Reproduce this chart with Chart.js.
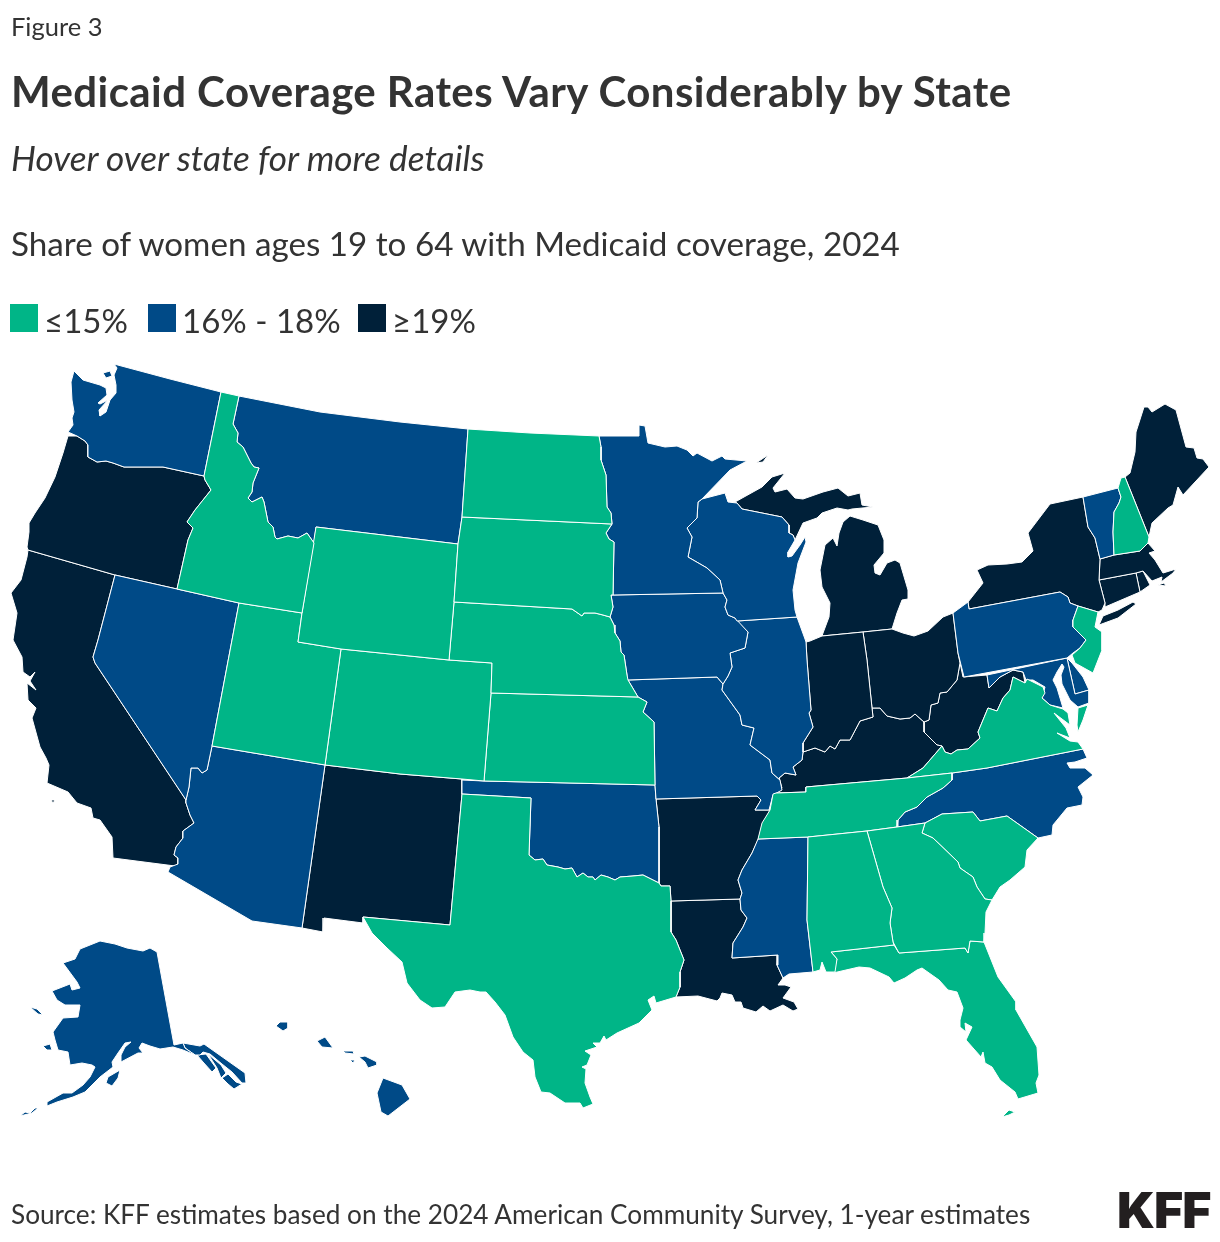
<!DOCTYPE html>
<html>
<head>
<meta charset="utf-8">
<script src="https://cdn.jsdelivr.net/npm/chart.js@4"></script>
<style>
  html, body { margin: 0; padding: 0; background: #fff; }
  #page { position: relative; width: 1220px; height: 1242px; overflow: hidden; font-family: Lato, sans-serif; color: #333; }
  #myChart { position: absolute; left: 0; top: 0; }
  .txt { position: absolute; white-space: nowrap; line-height: 1; }
  #figure { left: 11px; top: 14px; font-size: 25.5px; }
  #title { left: 11px; top: 70px; font-size: 42px; font-weight: 700; letter-spacing: 0.43px; }
  #hover { left: 11px; top: 140px; font-size: 35.2px; font-style: italic; }
  #share { left: 11px; top: 227px; font-size: 33.2px; }
  #source { left: 11px; top: 1201px; font-size: 26.2px; }
  #logo { left: 1117px; top: 1185px; font-size: 50px; font-weight: 900; letter-spacing: -1px; color: #231f20; font-family: Inter, sans-serif; }
  #legend .sw { position: absolute; top: 304px; width: 28px; height: 28px; }
  #legend .txt { top: 304px; font-size: 33px; }
</style>
</head>
<body>
<div id="page">
  <canvas id="myChart" width="1220" height="1242"></canvas>
  <div class="txt" id="figure">Figure 3</div>
  <div class="txt" id="title">Medicaid Coverage Rates Vary Considerably by State</div>
  <div class="txt" id="hover">Hover over state for more details</div>
  <div class="txt" id="share">Share of women ages 19 to 64 with Medicaid coverage, 2024</div>
  <div id="legend"></div>
  <div class="txt" id="source">Source: KFF estimates based on the 2024 American Community Survey, 1-year estimates</div>
  <div class="txt" id="logo">KFF</div>
</div>
<script>
const tierLabels = ['≤15%', '16% - 18%', '≥19%'];
const tierColors = ['#00b587', '#004a87', '#002039'];

const tierLow = ['Idaho', 'North Dakota', 'South Dakota', 'Wyoming', 'Nebraska', 'Utah', 'Colorado', 'Kansas', 'Texas',
  'Alabama', 'Georgia', 'South Carolina', 'Florida', 'Tennessee', 'Virginia', 'New Jersey', 'New Hampshire'];
const tierMid = ['Washington', 'Montana', 'Minnesota', 'Wisconsin', 'Iowa', 'Illinois', 'Missouri', 'Nevada', 'Arizona',
  'Oklahoma', 'Mississippi', 'North Carolina', 'Pennsylvania', 'Vermont', 'Maryland', 'Delaware', 'Alaska', 'Hawaii'];
const tierHigh = ['Oregon', 'California', 'New Mexico', 'Arkansas', 'Louisiana', 'Indiana', 'Ohio', 'Kentucky',
  'West Virginia', 'Michigan', 'New York', 'Maine', 'Massachusetts', 'Connecticut', 'Rhode Island', 'District of Columbia'];

// state outlines, in map units, flat x,y lists, one list per land part
const outlines = {
  'Washington': [[114,364, 170,379, 221,392, 204,476, 163,467, 153,467, 140,467, 130,467, 124,467, 113,463, 106,461, 97,462, 88,457, 88,445, 85,441, 77,436, 68,432, 73,425, 72,418, 74,412, 72,400, 71,382, 74,371, 83,380, 100,385, 106,388, 107,395, 98,403, 100,404, 108,400, 99,410, 100,416, 106,412, 110,400, 116,393, 116,385, 114,375, 117,368],
    [103,373, 110,371, 112,376, 106,378]],
  'Oregon': [[77,436, 85,441, 88,445, 88,457, 97,462, 106,461, 113,463, 124,467, 130,467, 140,467, 153,467, 163,467, 204,476, 205,480, 211,490, 195,510, 187,522, 193,528, 188,540, 177,589, 115,575, 28,550, 27,547, 29,532, 29,523, 35,513, 45,498, 55,477, 63,453, 68,436]],
  'California': [[28,550, 115,575, 98,640, 93,657, 95,663, 186,800, 186,803, 190,815, 194,823, 183,831, 183,838, 176,847, 174,855, 178,858, 178,864, 175,866, 113,858, 112,837, 100,820, 93,818, 91,808, 77,803, 68,792, 47,783, 49,765, 46,758, 40,747, 32,718, 36,708, 28,700, 27,683, 36,690, 30,681, 35,672, 30,677, 23,672, 22,657, 13,640, 17,613, 11,593, 21,580, 27,557],
    [51,800, 55,800, 53,803]],
  'Nevada': [[115,575, 177,589, 239,603, 212,746, 207,770, 202,773, 198,768, 191,768, 189,787, 186,800, 95,663, 93,657, 98,640]],
  'Idaho': [[221,392, 239,396, 233,424, 238,433, 237,442, 243,447, 251,463, 254,467, 259,468, 253,483, 252,492, 248,498, 252,502, 262,497, 264,502, 268,522, 273,527, 275,537, 277,539, 288,536, 298,538, 307,533, 314,543, 302,613, 239,603, 177,589, 188,540, 193,528, 187,522, 195,510, 211,490, 205,480, 204,476]],
  'Montana': [[239,396, 320,412, 400,422, 468,429, 462,517, 458,544, 316,527, 314,543, 307,533, 298,538, 288,536, 277,539, 275,537, 273,527, 268,522, 264,502, 262,497, 252,502, 248,498, 252,492, 253,483, 259,468, 254,467, 251,463, 243,447, 237,442, 238,433, 233,424]],
  'Wyoming': [[316,527, 458,544, 454,602, 449,660, 341,649, 298,642, 302,613]],
  'Utah': [[239,603, 302,613, 298,642, 341,649, 325,765, 212,746]],
  'Arizona': [[212,746, 325,765, 302,928, 252,921, 168,872, 170,867, 178,864, 178,858, 174,855, 176,847, 183,838, 183,831, 194,823, 190,815, 186,803, 186,800, 189,787, 191,768, 198,768, 202,773, 207,770]],
  'Colorado': [[341,649, 449,660, 492,663, 491,693, 484,781, 462,779, 400,774, 325,765]],
  'New Mexico': [[325,765, 400,774, 462,779, 462,794, 450,925, 363,917, 363,923, 324,918, 323,932, 302,928]],
  'North Dakota': [[468,429, 530,433, 599,436, 601,447, 601,460, 606,475, 607,507, 611,513, 612,524, 462,517]],
  'South Dakota': [[462,517, 612,524, 606,533, 609,539, 614,542, 613,595, 611,595, 613,607, 610,617, 603,615, 595,613, 584,613, 582,616, 572,609, 454,602, 458,544]],
  'Nebraska': [[454,602, 572,609, 582,616, 584,613, 595,613, 603,615, 610,617, 614,625, 615,633, 620,641, 621,652, 624,655, 627,675, 628,680, 638,697, 491,693, 492,663, 449,660]],
  'Kansas': [[491,693, 638,697, 647,702, 643,712, 654,722, 655,785, 484,781]],
  'Oklahoma': [[462,780, 484,781, 655,785, 656,799, 659,827, 659,883, 643,875, 633,876, 620,877, 615,880, 608,877, 601,875, 595,880, 593,877, 588,877, 583,873, 577,877, 572,868, 565,869, 558,867, 547,865, 543,859, 535,860, 529,855, 531,798, 462,794]],
  'Texas': [[462,794, 531,798, 529,855, 535,860, 543,859, 547,865, 558,867, 565,869, 572,868, 577,877, 583,873, 588,877, 593,877, 595,880, 601,875, 608,877, 615,880, 620,877, 633,876, 643,875, 659,883, 661,886, 670,886, 671,901, 671,920, 671,932, 676,940, 684,960, 680,972, 680,987, 676,997, 656,1003, 654,996, 648,1000, 652,1010, 639,1023, 617,1033, 606,1040, 604,1036, 600,1043, 593,1043, 597,1047, 585,1051, 591,1055, 587,1065, 582,1067, 586,1069, 585,1083, 590,1097, 593,1104, 583,1108, 580,1103, 565,1103, 550,1093, 541,1092, 535,1077, 533,1060, 523,1052, 513,1037, 505,1015, 495,1002, 486,992, 480,992, 470,990, 455,992, 445,1007, 432,1008, 420,1000, 407,983, 402,962, 387,948, 372,933, 363,917, 450,925]],
  'Minnesota': [[599,436, 639,436, 639,425, 645,426, 648,443, 665,447, 677,446, 687,450, 693,456, 697,453, 712,461, 722,456, 725,459, 747,461, 730,470, 702,499, 698,502, 697,518, 687,528, 692,537, 688,557, 707,568, 720,580, 723,593, 613,595, 614,542, 609,539, 606,533, 612,524, 611,513, 607,507, 606,475, 601,460, 601,447]],
  'Iowa': [[613,595, 723,593, 727,600, 725,607, 728,615, 735,618, 748,632, 745,648, 730,653, 732,667, 728,676, 723,684, 717,677, 627,680, 627,675, 624,655, 621,652, 620,641, 615,633, 614,625, 610,617, 613,607, 611,595]],
  'Missouri': [[628,680, 717,677, 723,684, 722,690, 740,715, 742,725, 754,728, 750,745, 770,760, 772,773, 780,780, 782,790, 773,795, 769,810, 755,810, 761,800, 757,796, 656,799, 655,785, 654,722, 643,712, 647,702, 638,697]],
  'Arkansas': [[656,799, 757,796, 761,800, 755,810, 770,810, 762,827, 758,840, 752,853, 742,870, 738,880, 742,893, 740,899, 671,901, 670,886, 661,886, 659,883, 659,827]],
  'Louisiana': [[671,901, 740,899, 741,910, 747,918, 743,927, 733,943, 732,958, 778,955, 777,965, 783,978, 778,985, 785,985, 791,987, 783,998, 794,1002, 798,1009, 793,1011, 783,1005, 770,1011, 763,1006, 756,1012, 743,1008, 741,1002, 735,1002, 732,995, 722,993, 720,998, 717,1001, 698,996, 676,997, 680,987, 680,972, 684,960, 676,940, 671,932, 671,920]],
  'Wisconsin': [[702,499, 725,493, 728,502, 737,503, 742,509, 782,517, 789,525, 789,533, 793,535, 795,540, 788,552, 788,557, 792,556, 800,545, 805,537, 806,542, 798,563, 793,590, 795,610, 797,617, 737,621, 735,618, 728,615, 725,607, 727,600, 723,593, 720,580, 707,568, 688,557, 692,537, 687,528, 697,518, 698,502]],
  'Illinois': [[737,621, 797,617, 805,639, 806,642, 807,660, 811,710, 809,713, 813,727, 803,743, 803,752, 802,760, 793,767, 796,775, 785,773, 779,778, 780,780, 772,773, 770,760, 750,745, 754,728, 742,725, 740,715, 722,690, 723,684, 728,676, 732,667, 730,653, 745,648, 748,632]],
  'Indiana': [[806,642, 810,641, 822,636, 863,632, 867,660, 872,708, 873,717, 860,721, 850,740, 840,740, 835,749, 830,746, 825,752, 815,748, 803,752, 803,743, 813,727, 809,713, 811,710, 807,660]],
  'Michigan': [[735,502, 762,487, 772,477, 785,473, 773,488, 775,492, 787,489, 795,498, 803,499, 823,492, 838,488, 848,496, 860,493, 862,505, 873,507, 852,509, 848,510, 837,508, 822,513, 817,518, 803,523, 795,540, 793,535, 789,533, 789,525, 782,517, 742,509, 737,503],
    [822,636, 863,632, 892,629, 897,613, 902,600, 908,599, 908,590, 900,563, 895,560, 887,563, 880,575, 875,573, 874,565, 884,553, 884,540, 878,525, 863,520, 850,516, 843,522, 839,533, 837,546, 833,538, 825,545, 824,550, 820,570, 822,587, 830,603, 829,617, 823,633],
    [756,463, 768,455, 763,462]],
  'Ohio': [[863,632, 892,629, 903,633, 914,636, 928,631, 943,617, 953,613, 958,653, 960,663, 957,680, 947,692, 940,693, 938,703, 931,705, 929,720, 924,722, 915,714, 910,718, 900,719, 887,716, 880,708, 872,708, 867,660]],
  'Kentucky': [[803,752, 815,748, 825,752, 830,746, 835,749, 840,740, 850,740, 860,721, 873,717, 872,708, 880,708, 887,716, 900,719, 910,718, 915,714, 924,722, 924,732, 937,745, 942,746, 923,768, 907,778, 806,787, 806,792, 776,793, 782,788, 779,778, 785,773, 796,775, 793,767, 802,760]],
  'West Virginia': [[958,653, 963,677, 987,675, 989,688, 1000,677, 1013,670, 1023,672, 1025,683, 1013,677, 1010,690, 1003,698, 997,711, 988,708, 978,732, 980,738, 968,749, 957,750, 951,754, 945,752, 942,746, 937,745, 924,732, 924,722, 929,720, 931,705, 938,703, 940,693, 947,692, 957,680, 960,663]],
  'Virginia': [[1013,677, 1025,683, 1027,679, 1043,687, 1045,693, 1042,698, 1050,705, 1063,709, 1068,713, 1070,725, 1054,713, 1066,728, 1070,738, 1057,733, 1070,741, 1078,742, 1083,749, 987,768, 952,773, 907,778, 923,768, 942,746, 945,752, 951,754, 957,750, 968,749, 980,738, 978,732, 988,708, 997,711, 1003,698, 1010,690],
    [1078,708, 1088,705, 1083,720, 1078,732, 1077,725]],
  'Tennessee': [[773,794, 776,793, 806,792, 806,787, 907,778, 952,773, 952,780, 943,788, 927,797, 917,807, 905,812, 898,820, 897,827, 867,831, 808,837, 758,839, 762,823, 770,810]],
  'North Carolina': [[952,773, 987,768, 1083,749, 1087,758, 1075,762, 1067,763, 1070,768, 1085,768, 1093,775, 1078,787, 1083,797, 1082,805, 1067,808, 1053,825, 1052,835, 1038,838, 1007,816, 980,821, 973,812, 942,814, 925,823, 897,827, 898,820, 905,812, 917,807, 927,797, 943,788, 952,780]],
  'South Carolina': [[925,823, 942,814, 973,812, 980,821, 1007,816, 1038,838, 1027,850, 1025,867, 1010,880, 1000,887, 992,900, 985,899, 977,887, 973,877, 960,868, 958,862, 933,838, 922,833]],
  'Georgia': [[867,831, 897,827, 925,823, 922,833, 933,838, 958,862, 960,868, 973,877, 977,887, 985,899, 992,900, 986,912, 985,933, 984,942, 970,941, 968,953, 965,948, 899,953, 893,942, 890,923, 892,908, 883,887]],
  'Alabama': [[808,837, 867,831, 883,887, 892,908, 890,923, 893,942, 894,945, 831,952, 837,959, 835,972, 826,972, 822,962, 820,970, 813,972, 807,920]],
  'Mississippi': [[758,839, 808,837, 807,920, 813,972, 789,974, 783,978, 777,965, 778,955, 732,958, 733,943, 743,927, 747,918, 741,910, 740,899, 742,893, 738,880, 742,870, 752,853]],
  'Florida': [[831,952, 894,945, 899,953, 965,948, 968,953, 970,941, 984,942, 998,977, 1016,1002, 1016,1010, 1037,1047, 1039,1075, 1036,1083, 1038,1093, 1018,1099, 1015,1092, 1000,1080, 992,1067, 985,1063, 983,1052, 981,1057, 966,1040, 972,1027, 965,1023, 966,1032, 960,1027, 960,1020, 963,1008, 957,992, 948,990, 939,980, 922,968, 917,970, 905,978, 894,983, 889,977, 870,968, 859,967, 833,973, 837,959],
    [1002,1117, 1009,1110, 1015,1112, 1009,1115]],
  'Pennsylvania': [[953,613, 968,602, 969,609, 1060,592, 1068,597, 1070,603, 1078,606, 1073,620, 1073,627, 1086,640, 1080,648, 1073,653, 1067,658, 964,677, 958,653]],
  'New Jersey': [[1078,606, 1098,612, 1095,627, 1102,632, 1102,650, 1093,673, 1075,663, 1072,655, 1080,648, 1086,640, 1073,627, 1073,620]],
  'New York': [[968,602, 983,583, 977,570, 988,565, 1007,564, 1022,562, 1033,551, 1028,533, 1050,504, 1083,497, 1088,527, 1095,538, 1100,559, 1099,580, 1105,603, 1102,610, 1098,612, 1078,606, 1070,603, 1068,597, 1060,592, 969,609],
    [1099,625, 1103,616, 1118,610, 1133,602, 1136,604, 1118,618]],
  'Vermont': [[1083,497, 1118,488, 1121,497, 1119,503, 1114,512, 1113,532, 1114,555, 1100,559, 1095,538, 1088,527]],
  'New Hampshire': [[1118,488, 1121,478, 1125,477, 1149,537, 1148,543, 1140,551, 1114,555, 1113,532, 1114,512, 1119,503, 1121,497]],
  'Maine': [[1125,477, 1130,473, 1135,452, 1136,432, 1144,407, 1148,407, 1152,412, 1165,404, 1176,410, 1186,447, 1194,448, 1197,458, 1203,459, 1209,467, 1183,495, 1178,487, 1173,505, 1168,508, 1152,523, 1149,537]],
  'Massachusetts': [[1100,559, 1114,555, 1140,551, 1148,543, 1155,551, 1149,553, 1155,560, 1163,573, 1176,569, 1173,573, 1161,582, 1162,577, 1152,581, 1143,571, 1136,573, 1099,580],
    [1158,585, 1164,583, 1166,586]],
  'Connecticut': [[1099,580, 1136,573, 1140,592, 1105,607, 1105,603]],
  'Rhode Island': [[1136,573, 1143,571, 1150,585, 1140,592]],
  'Maryland': [[987,675, 1067,658, 1075,694, 1089,690, 1089,703, 1078,707, 1070,700, 1065,690, 1062,684, 1061,675, 1064,667, 1062,664, 1057,672, 1053,680, 1057,688, 1060,698, 1063,708, 1050,705, 1042,698, 1045,687, 1033,680, 1026,680, 1023,672, 1013,670, 1000,677, 989,688]],
  'Delaware': [[1067,658, 1072,663, 1083,677, 1089,690, 1075,694]],
  'District of Columbia': [[1044,685, 1048,687, 1046,690]],
  'Alaska': [[157,952, 174,1045, 183,1043, 185,1048, 195,1055, 183,1050, 173,1047, 160,1049, 150,1046, 142,1043, 139,1048, 143,1053, 138,1053, 121,1062, 121,1055, 125,1047, 131,1042, 125,1043, 118,1053, 112,1062, 113,1067, 100,1077, 85,1092, 73,1097, 57,1102, 47,1106, 47,1102, 63,1093, 72,1093, 83,1085, 90,1077, 95,1067, 92,1065, 82,1063, 70,1065, 68,1052, 58,1050, 55,1040, 53,1032, 63,1018, 78,1017, 80,1005, 65,1005, 57,1000, 52,991, 70,984, 72,990, 80,988, 77,982, 63,963, 75,959, 80,949, 100,941, 115,944, 127,948, 143,951, 150,948],
    [183,1043, 200,1046, 204,1044, 245,1073, 246,1083, 242,1083, 232,1072, 222,1064, 210,1054, 203,1052, 200,1055, 195,1055, 185,1048],
    [197,1055, 206,1054, 216,1068, 212,1072, 203,1062],
    [208,1054, 221,1065, 226,1073, 221,1078, 217,1068],
    [222,1078, 228,1074, 236,1082, 242,1084, 234,1089, 228,1084],
    [30,1007, 37,1009, 43,1015, 38,1014],
    [43,1046, 50,1044, 52,1050, 47,1050],
    [106,1083, 108,1077, 120,1070, 118,1078, 112,1086],
    [20,1116, 25,1112, 30,1113, 35,1108, 38,1108, 32,1113]],
  'Hawaii': [[276,1026, 280,1022, 288,1022, 288,1028, 283,1031],
    [317,1041, 325,1037, 333,1048, 322,1047],
    [343,1051, 353,1051, 354,1054, 345,1053],
    [350,1060, 355,1060, 353,1063],
    [359,1057, 365,1056, 377,1062, 377,1065, 368,1068, 365,1062],
    [383,1078, 402,1085, 410,1099, 388,1116, 381,1112, 377,1093]]
};

const tiers = [tierLow, tierMid, tierHigh];

function toPoints(flat) {
  const pts = [];
  for (let i = 0; i < flat.length; i += 2) pts.push({ x: flat[i], y: flat[i + 1] });
  pts.push(pts[0]);
  return pts;
}

const datasets = [];
tiers.forEach((names, t) => {
  names.forEach(name => {
    outlines[name].forEach(part => {
      datasets.push({
        label: name,
        data: toPoints(part),
        showLine: true,
        fill: 'shape',
        backgroundColor: tierColors[t],
        borderColor: '#ffffff',
        borderWidth: 1,
        pointRadius: 0,
        pointHoverRadius: 0,
        tension: 0
      });
    });
  });
});

const ctx = document.getElementById('myChart').getContext('2d');
const myChart = new Chart(ctx, {
  type: 'scatter',
  data: { datasets },
  options: {
    responsive: false,
    animation: false,
    layout: { padding: 0 },
    plugins: { legend: { display: false } },
    scales: {
      x: { display: false, min: 0, max: 1220 },
      y: { display: false, min: 0, max: 1242, reverse: true }
    }
  }
});

// legend row
const legendEl = document.getElementById('legend');
const swatchX = [10, 148, 358];
tierLabels.forEach((label, i) => {
  const sw = document.createElement('div');
  sw.className = 'sw';
  sw.style.left = swatchX[i] + 'px';
  sw.style.background = tierColors[i];
  legendEl.appendChild(sw);
  const t = document.createElement('div');
  t.className = 'txt';
  t.style.left = (swatchX[i] + 34) + 'px';
  t.textContent = label;
  legendEl.appendChild(t);
});
</script>
</body>
</html>
